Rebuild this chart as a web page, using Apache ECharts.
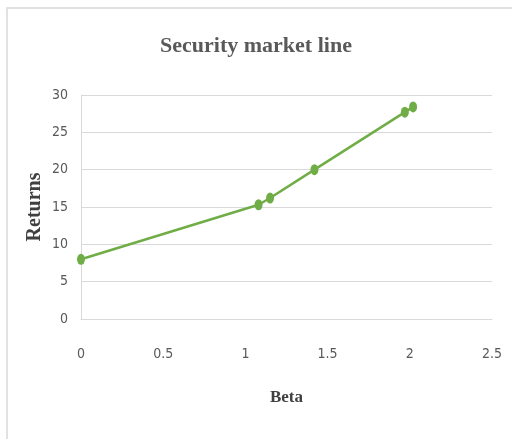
<!DOCTYPE html>
<html style="height: 100%">
<head>
    <meta charset="utf-8">
    <script type="text/javascript" src="https://cdn.jsdelivr.net/npm/echarts@6/dist/echarts.min.js"></script>
</head>
<body style="height: 100%; margin: 0; background: #fff">
    <div id="container" style="width: 512px; height: 439px"></div>
<script type="text/javascript">
    // beta vs returns
    var betas = [0, 1.08, 1.15, 1.42, 1.97, 2.02];
    var returns = [8, 15.3, 16.2, 20, 27.7, 28.4];

    var points = [];
    for (var i = 0; i < betas.length; i++) {
        points.push([betas[i], returns[i]]);
    }

    var myChart = echarts.init(document.getElementById("container"));
    var labelFont = "'Liberation Sans Narrow', 'DejaVu Sans Condensed', sans-serif";
    myChart.setOption({
        animation: false,
        backgroundColor: '#fff',
        graphic: [{
            type: 'rect',
            shape: {x: 7, y: 8, width: 600, height: 500},
            style: {fill: 'none', stroke: '#d9d9d9', lineWidth: 1.5}
        }],
        title: {
            text: 'Security market line',
            left: 'center',
            top: 30,
            textStyle: {
                fontFamily: "'Liberation Serif', serif",
                fontWeight: 'bold',
                fontSize: 22,
                color: '#595959'
            }
        },
        grid: {left: 81, right: 20, top: 95, bottom: 120},
        xAxis: {
            type: 'value',
            min: 0,
            max: 2.5,
            interval: 0.5,
            name: 'Beta',
            nameLocation: 'middle',
            nameGap: 70,
            nameTextStyle: {fontFamily: "'Liberation Serif', serif", fontWeight: 'bold', fontSize: 17, color: '#404040'},
            axisLine: {show: true, lineStyle: {color: '#d9d9d9'}},
            axisTick: {show: false},
            splitLine: {show: false},
            axisLabel: {margin: 28, fontFamily: labelFont, fontSize: 14, color: '#595959'}
        },
        yAxis: {
            type: 'value',
            min: 0,
            max: 30,
            interval: 5,
            name: 'Returns',
            nameLocation: 'middle',
            nameGap: 36,
            nameMoveOverlap: false,
            nameTextStyle: {fontFamily: "'Liberation Serif', serif", fontWeight: 'bold', fontSize: 20, color: '#404040'},
            axisLine: {show: true, lineStyle: {color: '#d9d9d9'}},
            axisTick: {show: false},
            splitLine: {lineStyle: {color: '#d9d9d9'}},
            axisLabel: {margin: 13, fontFamily: labelFont, fontSize: 14, color: '#595959'}
        },
        series: [{
            type: 'line',
            data: points,
            symbol: 'circle',
            symbolSize: [8, 11],
            lineStyle: {color: '#70ad47', width: 2.5},
            itemStyle: {color: '#70ad47'}
        }]
    });
</script>
</body>
</html>
